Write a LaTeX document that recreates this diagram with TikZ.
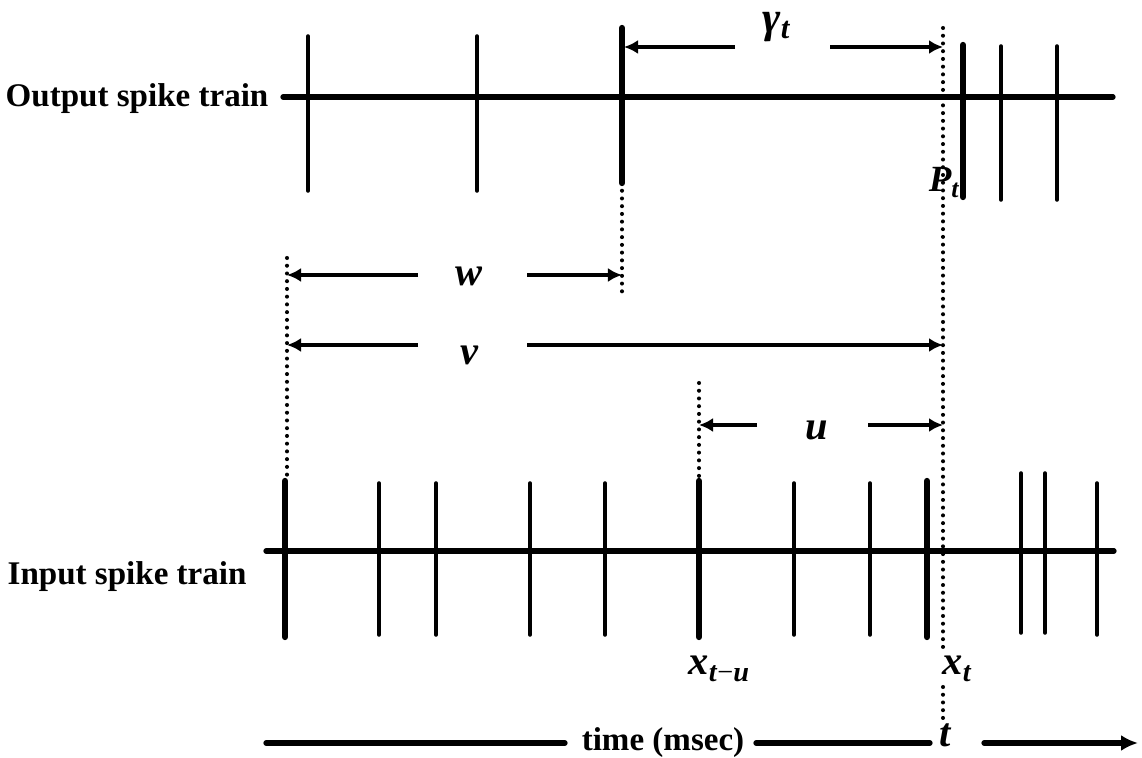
\documentclass[tikz,border=0pt]{standalone}
\usepackage{fontspec}
\setmainfont{Liberation Serif}
\usetikzlibrary{arrows.meta}

\begin{document}
\begin{tikzpicture}[x=0.01cm, y=-0.01cm,
	train/.style={line width=1.5pt, line cap=round},
	spk/.style={line width=1pt, line cap=round},
	bigspk/.style={line width=1.8pt, line cap=round},
	guide/.style={line width=1.15pt, line cap=round, dash pattern=on 0pt off 2.2pt},
	span/.style={line width=1.3pt, -{Latex[length=1.4mm,width=1.4mm]}},
	lbl/.style={font=\fontsize{9.4}{11}\selectfont\bfseries, inner sep=0pt},
	sym/.style={font=\fontsize{11.5}{13}\selectfont\bfseries\itshape, inner sep=0pt}]
	\useasboundingbox (0,0) rectangle (1142,758);

	% output train
	\node[lbl, anchor=base west] (outlbl) at (5,107) {Output spike train};
	\draw[train] (283,97) -- (1113,97);
	\foreach \x/\t/\b in {308/36/191, 477/36/191, 1001/46/200, 1057/46/200}
		\draw[spk] (\x,\t) -- (\x,\b);
	\foreach \x/\t/\b in {622/28/183, 963/45/197}
		\draw[bigspk] (\x,\t) -- (\x,\b);
	\node[sym, font=\fontsize{10.5}{12}\selectfont\bfseries\itshape, anchor=base east] (pt) at (961,192) {P\textsubscript{t}};

	% input train
	\node[lbl, anchor=base west] (inlbl) at (7,585) {Input spike train};
	\draw[train] (266,551) -- (1114,551);
	\foreach \x in {379,436,530,605,794,870,1097}
		\draw[spk] (\x,483) -- (\x,635);
	\foreach \x in {1021,1045}
		\draw[spk] (\x,473) -- (\x,633);
	\foreach \x in {285,699,927}
		\draw[bigspk] (\x,481) -- (\x,637);
	\node[sym, anchor=base west] (xtu) at (688,675) {x\textsubscript{t\textup{\mdseries−}u}};
	\node[sym, anchor=base west] (xt) at (942,675) {x\textsubscript{t}};

	% dotted guides
	\coordinate (g0) at (287,258);
	\coordinate (g1) at (287,481);
	\coordinate (g2) at (622,183);
	\coordinate (g3) at (622,292);
	\coordinate (g4) at (699,383);
	\coordinate (g5) at (699,481);
	\coordinate (g6) at (943,28);
	\coordinate (g7) at (943,650);
	\coordinate (g8) at (943,687);
	\coordinate (g9) at (943,720);
	\draw[guide] (g0) -- (g1);
	\draw[guide] (g2) -- (g3);
	\draw[guide] (g4) -- (g5);
	\draw[guide] (g6) -- (g7);
	\draw[guide] (g8) -- (g9);

	% intervals
	\node[sym, font=\fontsize{12.5}{14}\selectfont\bfseries\itshape] (gam) at (777,27) {γ\textsubscript{t}};
	\coordinate (c1) at (735,47);
	\coordinate (c2) at (624,47);
	\coordinate (c3) at (830,47);
	\coordinate (c4) at (943,47);
	\draw[span] (c1) -- (c2);
	\draw[span] (c3) -- (c4);

	\node[sym] (wlab) at (469,276) {w};
	\coordinate (w1) at (418,275);
	\coordinate (w2) at (287,275);
	\coordinate (w3) at (527,275);
	\coordinate (w4) at (622,275);
	\draw[span] (w1) -- (w2);
	\draw[span] (w3) -- (w4);

	\node[sym] (vlab) at (469,355) {v};
	\coordinate (v1) at (418,345);
	\coordinate (v2) at (287,345);
	\coordinate (v3) at (527,345);
	\coordinate (v4) at (943,345);
	\draw[span] (v1) -- (v2);
	\draw[span] (v3) -- (v4);

	\node[sym] (ulab) at (817,430) {u};
	\coordinate (u1) at (757,425);
	\coordinate (u2) at (699,425);
	\coordinate (u3) at (868,425);
	\coordinate (u4) at (943,425);
	\draw[span] (u1) -- (u2);
	\draw[span] (u3) -- (u4);

	% time axis
	\node[lbl, anchor=base] (timelab) at (663,750) {time (msec)};
	\node[sym, anchor=base] (tlab) at (945,747) {t};
	\coordinate (a0) at (266,743);
	\coordinate (a1) at (565,743);
	\coordinate (a2) at (756,743);
	\coordinate (a3) at (930,743);
	\coordinate (a4) at (984,743);
	\coordinate (a5) at (1138,743);
	\draw[train] (a0) -- (a1);
	\draw[train] (a2) -- (a3);
	\draw[train, -{Latex[length=1.7mm,width=1.6mm]}] (a4) -- (a5);
\end{tikzpicture}
\end{document}
